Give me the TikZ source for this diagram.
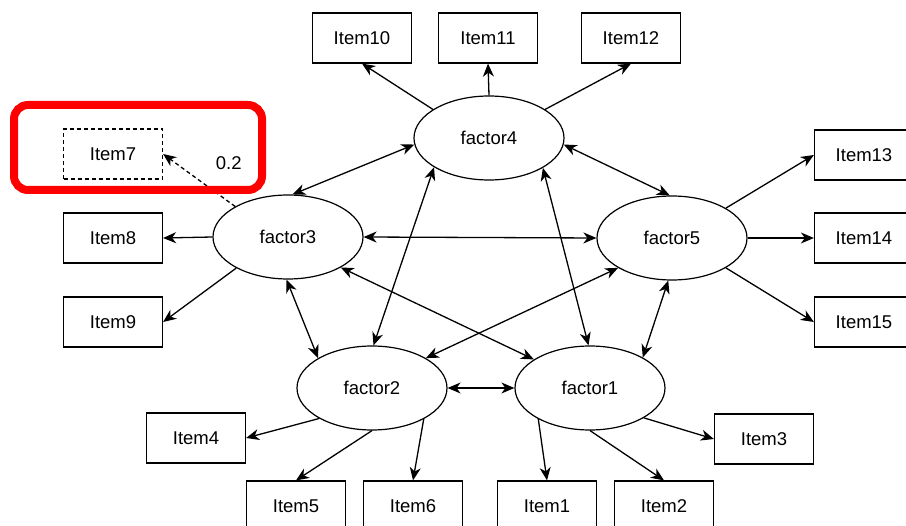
\documentclass[tikz,border=0pt]{standalone}
\usepackage{fontspec}
\setmainfont{Liberation Sans}
\usetikzlibrary{shapes.geometric,arrows.meta}

\begin{document}
\begin{tikzpicture}[
    x=1pt, y=-1pt,
    line width=1.3pt,
    font=\fontsize{18.5}{20}\selectfont,
    item/.style={rectangle, draw, line width=1.2pt, minimum width=99pt, minimum height=50pt, inner sep=0pt},
    factor/.style={ellipse, draw, line width=1.2pt, minimum width=150pt, minimum height=84pt, inner sep=0pt},
    load/.style={-{Stealth[length=13pt,width=11pt,inset=4pt]}},
    cov/.style={{Stealth[length=13pt,width=11pt,inset=4pt]}-{Stealth[length=13pt,width=11pt,inset=4pt]}}
]
    \useasboundingbox (0,0) rectangle (906,526);

    % Factores
    \node[factor] (f4) at (489,138) {factor4};
    \node[factor] (f3) at (288,237) {factor3};
    \node[factor] (f5) at (672,238) {factor5};
    \node[factor] (f2) at (372,388) {factor2};
    \node[factor] (f1) at (590,388) {factor1};

    % Items
    \node[item] (i10) at (362,38) {Item10};
    \node[item] (i11) at (488,38) {Item11};
    \node[item] (i12) at (631,38) {Item12};
    \node[item] (i13) at (864,155) {Item13};
    \node[item] (i14) at (864,238) {Item14};
    \node[item] (i15) at (864,322) {Item15};
    \node[item, dash pattern=on 4pt off 3pt] (i7) at (113,154) {Item7};
    \node[item] (i8) at (113,238) {Item8};
    \node[item] (i9) at (113,322) {Item9};
    \node[item] (i4) at (196,438) {Item4};
    \node[item] (i3) at (764,439) {Item3};
    \node[item] (i5) at (296,506) {Item5};
    \node[item] (i6) at (413,506) {Item6};
    \node[item] (i1) at (547,506) {Item1};
    \node[item] (i2) at (664,506) {Item2};

    % Cargas
    \draw[load] (f4.153) -- (i10.south);
    \draw[load] (f4.90) -- (i11.south);
    \draw[load] (f4.27) -- (i12.south);
    \draw[load] (f5.29) -- (i13.west);
    \draw[load] (f5.0) -- (i14.west);
    \draw[load] (f5.331) -- (i15.west);
    \draw[load] (f3.180) -- (i8.east);
    \draw[load] (f3.211) -- (i9.east);
    \draw[load, dash pattern=on 4pt off 3pt] (f3.150) -- (i7.east)
        node[pos=0.45, xshift=26pt, yshift=20pt] (w7) {0.2};
    \draw[load] (f2.210) -- (i4.east);
    \draw[load] (f2.270) -- (i5.north);
    \draw[load] (f2.329) -- (i6.north);
    \draw[load] (f1.211) -- (i1.north);
    \draw[load] (f1.270) -- (i2.north);
    \draw[load] (f1.331) -- (i3.west);

    % Covarianzas
    \draw[cov] (f4.185) -- (f3.84);
    \draw[cov] (f4.355) -- (f5.93);
    \draw[cov] (f4.208) -- (f2.88);
    \draw[cov] (f4.331) -- (f1.92);
    \draw[cov] (f3.0) -- (f5.180);
    \draw[cov] (f3.268) -- (f2.151);
    \draw[cov] (f3.330) -- (f1.153);
    \draw[cov] (f5.209) -- (f2.29);
    \draw[cov] (f5.265) -- (f1.30);
    \draw[cov] (f2.0) -- (f1.180);

    % Marca
    \draw[red, line width=8pt, rounded corners=14pt] (14,105) rectangle (262,190);

\end{tikzpicture}
\end{document}
